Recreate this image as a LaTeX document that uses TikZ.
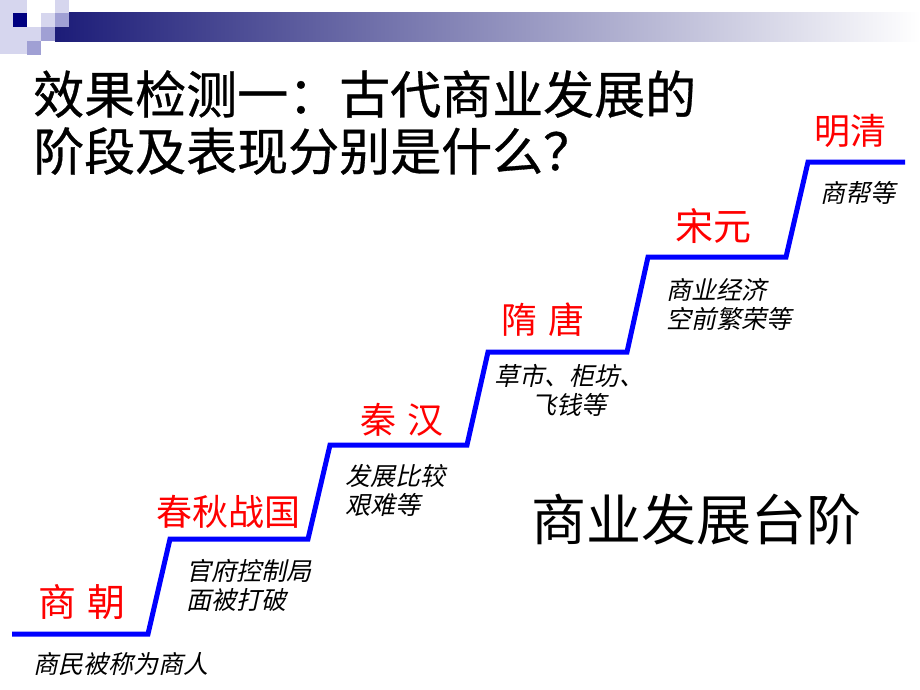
\documentclass[tikz,border=0pt]{standalone}
\usepackage{fontspec}
\newfontfamily\cjk{Noto Sans CJK SC}
\newfontfamily\cjkbold[FakeBold=0.6]{Noto Sans CJK SC}
\newfontfamily\cjkit[FakeSlant=0.22]{Noto Sans CJK SC}
\definecolor{navy}{RGB}{0,0,128}
\definecolor{barl}{RGB}{28,28,120}
\definecolor{barm}{RGB}{165,165,195}
\definecolor{sqlight}{RGB}{214,214,238}
\definecolor{sqmed}{RGB}{160,160,212}
\definecolor{stair}{RGB}{0,0,255}
\definecolor{era}{RGB}{255,0,0}
\tikzset{
  title/.style={inner sep=0pt, anchor=west, font=\cjkbold\fontsize{51}{57}\selectfont, text=black},
  eralabel/.style={inner sep=0pt, font=\cjk\fontsize{36}{40}\selectfont, text=era},
  note/.style={inner sep=0pt, font=\cjkit\fontsize{25}{29}\selectfont, text=black},
  stairline/.style={draw=stair, line width=5pt, line join=miter},
}
\begin{document}
\begin{tikzpicture}[x=1pt,y=-1pt]
\useasboundingbox[fill=white] (0,0) rectangle (920,690);
% banner
\shade[left color=barl, middle color=barm, right color=white] (55,13) rectangle (920,42);
\fill[sqlight] (0,0) rectangle (27,54);
\fill[navy] (13,13) rectangle (27,27);
\fill[sqlight] (27,27) rectangle (41,41);
\fill[sqmed] (27,41) rectangle (41,55);
\fill[sqlight] (41,13) rectangle (55,27);
\fill[sqmed] (41,27) rectangle (55,41);
\fill[sqlight] (55,0) rectangle (69,13);
\fill[sqmed] (55,13) rectangle (69,27);
% title
\node[title] (t1) at (33,94) {效果检测一：古代商业发展的};
\node[title] (t2) at (33,151) {阶段及表现分别是什么？};
% staircase
\coordinate (s0) at (12,634);
\coordinate (s1) at (148,634);
\coordinate (s2) at (170,539);
\coordinate (s3) at (308,539);
\coordinate (s4) at (330,445);
\coordinate (s5) at (467,445);
\coordinate (s6) at (488,352);
\coordinate (s7) at (627,352);
\coordinate (s8) at (648,257);
\coordinate (s9) at (786,257);
\coordinate (s10) at (808,162);
\coordinate (s11) at (905,162);
\draw[stairline] (s0) -- (s1) -- (s2) -- (s3) -- (s4) -- (s5) -- (s6) -- (s7) -- (s8) -- (s9) -- (s10) -- (s11);
% era labels
\node[eralabel, font=\cjk\fontsize{38}{40}\selectfont] (e1) at (82,602) {商\hspace{0.3em}朝};
\node[eralabel] (e2) at (228,512) {春秋战国};
\node[eralabel] (e3) at (402,420) {秦\hspace{0.3em}汉};
\node[eralabel] (e4) at (543,320) {隋\hspace{0.3em}唐};
\node[eralabel, font=\cjk\fontsize{38}{40}\selectfont] (e5) at (713,226) {宋元};
\node[eralabel] (e6) at (850,131) {明清};
% notes
\node[note] (n1) at (121,664) {商民被称为商人};
\node[note, anchor=west, align=left] (n2) at (186,585) {官府控制局\\面被打破};
\node[note, anchor=west, align=left] (n3) at (345,490) {发展比较\\艰难等};
\node[note, align=center] (n4) at (569,390) {草市、柜坊、\\飞钱等};
\node[note, anchor=west, align=left] (n5) at (666,304) {商业经济\\空前繁荣等};
\node[note] (n6) at (858,193) {商帮等};
% big label
\node[inner sep=0pt, font=\cjk\fontsize{55}{60}\selectfont] (big) at (696,520) {商业发展台阶};
\end{tikzpicture}
\end{document}
